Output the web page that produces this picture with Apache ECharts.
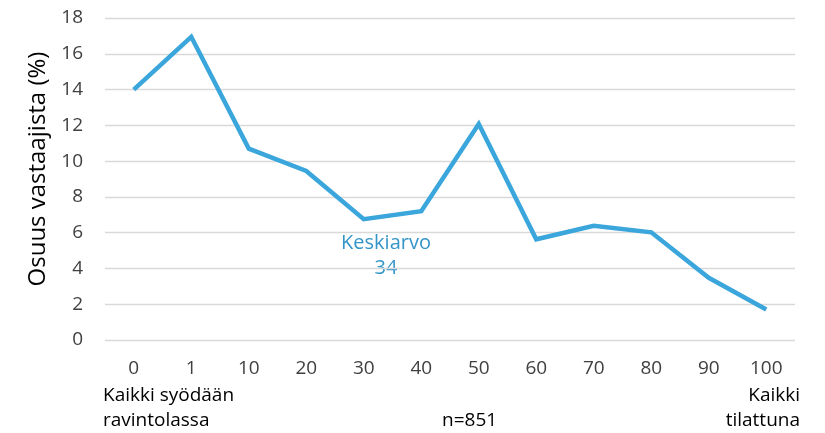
<!DOCTYPE html>
<html><head><meta charset="utf-8">
<script src="https://cdn.jsdelivr.net/npm/echarts@6/dist/echarts.min.js"></script>
<style>html,body{margin:0;padding:0;background:#fff}#c{width:825px;height:433px}</style>
</head><body><div id="c"></div>
<script>
const categories = ['0','1','10','20','30','40','50','60','70','80','90','100'];
const shares = [14.0, 16.95, 10.7, 9.45, 6.75, 7.2, 12.07, 5.63, 6.38, 6.02, 3.48, 1.7];
const yTicks = {min: 0, max: 18, interval: 2};
const yTitle = 'Osuus vastaajista (%)';
const leftNote = ['Kaikki syödään', 'ravintolassa'];
const rightNote = ['Kaikki', 'tilattuna'];
const nNote = 'n=851';
const meanNote = ['Keskiarvo', '34'];

const font = '"Open Sans", Lato, sans-serif';
const txt = '#404040';
const chart = echarts.init(document.getElementById('c'));
function t(text, x, y, align, color, size) {
  return {type: 'text', x: x, y: y, style: {text: text, fill: color || '#000', fontSize: size || 19,
    fontFamily: font, align: align, verticalAlign: 'middle'}};
}
chart.setOption({
  animation: false,
  grid: {left: 105, right: 30, top: 18, bottom: 93},
  xAxis: {
    type: 'category', data: categories, boundaryGap: true,
    axisLine: {show: false}, axisTick: {show: false},
    axisLabel: {color: txt, fontSize: 19, fontFamily: font, margin: 19}
  },
  yAxis: {
    type: 'value', min: yTicks.min, max: yTicks.max, interval: yTicks.interval,
    name: yTitle, nameLocation: 'middle', nameGap: 55, nameRotate: 90,
    nameTextStyle: {color: '#000', fontSize: 24, fontFamily: font, padding: [0, 0, 0, 20]},
    axisLine: {show: false}, axisTick: {show: false},
    axisLabel: {color: txt, fontSize: 19, fontFamily: font, margin: 22},
    splitLine: {lineStyle: {color: '#d9d9d9', width: 1.3}}
  },
  series: [{
    type: 'line', data: shares, symbol: 'none',
    lineStyle: {color: '#3ba6db', width: 4.5, join: 'miter'}
  }],
  graphic: [
    t(leftNote[0], 103, 396, 'left'),
    t(leftNote[1], 103, 421, 'left'),
    t(rightNote[0], 800, 396, 'right'),
    t(rightNote[1], 800, 421, 'right'),
    t(nNote, 442, 421, 'left'),
    t(meanNote[0], 386, 243, 'center', '#3495c8', 20),
    t(meanNote[1], 386, 268, 'center', '#3495c8', 20)
  ]
});
</script></body></html>
